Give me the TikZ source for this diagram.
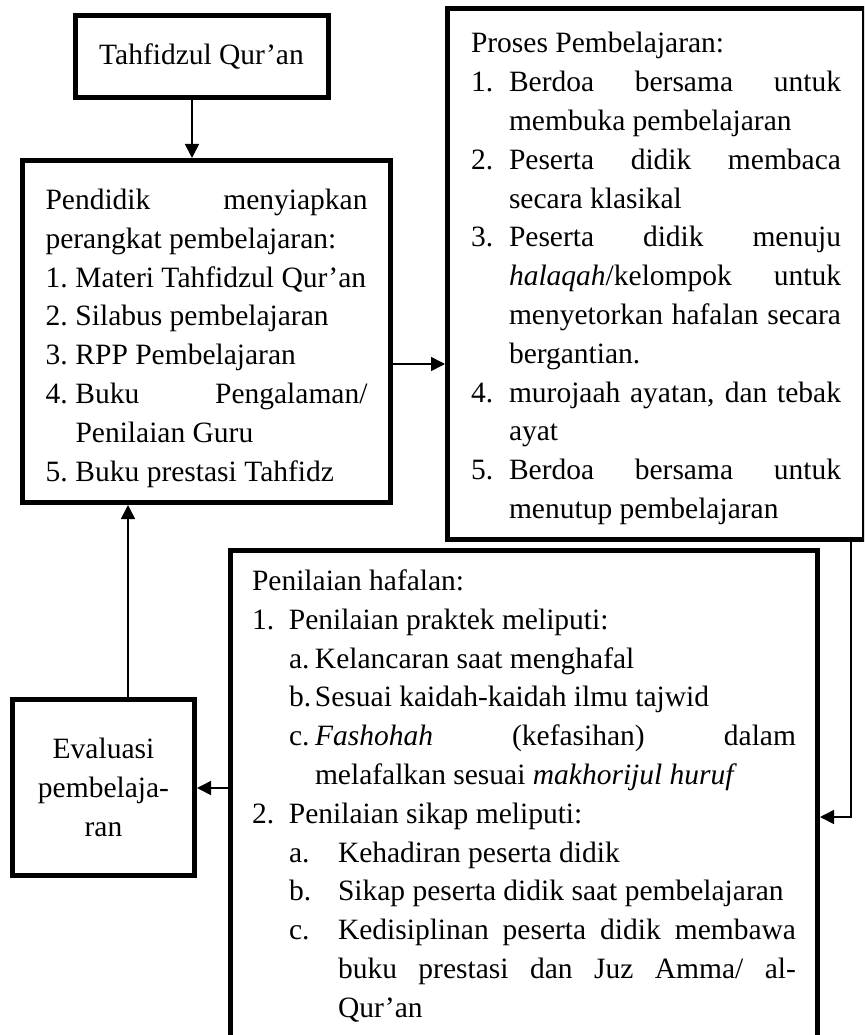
\documentclass[tikz,border=0pt]{standalone}
\usepackage{fontspec}
\setmainfont{Liberation Serif}
\usetikzlibrary{arrows.meta}
\newcommand\plainpara[1]{\par\noindent\strut#1\par}
\newcommand\numitem[3]{\par\hangindent=#1\hangafter=1\noindent\strut\makebox[#1][l]{#2}#3\par}
\newcommand\lvltwo[4]{\par\hangindent=\dimexpr#1+#2\relax\hangafter=1\noindent\strut\hspace*{#1}\makebox[#2][l]{#3}#4\par}
\newcommand\boxtext[4]{\parbox[c][#2][t]{#1}{\tolerance=10000\hbadness=10000\hyphenpenalty=10000\exhyphenpenalty=10000\parindent=0pt\vspace*{#3}#4}}
\begin{document}
\begin{tikzpicture}[x=1pt,y=-1pt,
  box/.style={draw, line width=5pt, rectangle, font=\fontsize{29.5}{38.8}\selectfont},
  listbox/.style={box, anchor=north west, inner ysep=0pt},
  conn/.style={line width=1.6pt, -{Triangle[length=14pt,width=14pt]}}]
\clip (0,0) rectangle (864,1035);
\useasboundingbox (0,0) rectangle (864,1035);

\node[box, minimum width=253pt, minimum height=82.5pt, inner sep=0pt] (tq) at (201.5,56.75) {Tahfidzul Qur’an};

\node[listbox, inner xsep=23pt] (pb) at (20,158) {\boxtext{322pt}{342pt}{21.8pt}{%
\plainpara{Pendidik menyiapkan\linebreak perangkat pembelajaran:}
\numitem{30pt}{1.}{Materi Tahfidzul Qur’an}
\numitem{30pt}{2.}{Silabus pembelajaran}
\numitem{30pt}{3.}{RPP Pembelajaran}
\numitem{30pt}{4.}{Buku Pengalaman/\linebreak Penilaian Guru}
\numitem{30pt}{5.}{Buku prestasi Tahfidz}}};

\node[listbox, inner xsep=23.5pt] (pc) at (445,6) {\boxtext{370pt}{531pt}{17.2pt}{%
\plainpara{Proses Pembelajaran:}
\numitem{38pt}{1.}{Berdoa bersama untuk\linebreak membuka pembelajaran}
\numitem{38pt}{2.}{Peserta didik membaca\linebreak secara klasikal}
\numitem{38pt}{3.}{Peserta didik menuju\linebreak \textit{halaqah}/kelompok untuk\linebreak menyetorkan hafalan secara\linebreak bergantian.}
\numitem{38pt}{4.}{murojaah ayatan, dan tebak\linebreak ayat}
\numitem{38pt}{5.}{Berdoa bersama untuk\linebreak menutup pembelajaran}}};

\node[listbox, inner xsep=21.5pt] (pd) at (228,548) {\boxtext{544pt}{530pt}{12.8pt}{%
\plainpara{Penilaian hafalan:}
\numitem{37pt}{1.}{Penilaian praktek meliputi:}
\lvltwo{37pt}{26pt}{a.}{Kelancaran saat menghafal}
\lvltwo{37pt}{26pt}{b.}{Sesuai kaidah-kaidah ilmu tajwid}
\lvltwo{37pt}{26pt}{c.}{\textit{Fashohah} (kefasihan) dalam\linebreak melafalkan sesuai \textit{makhorijul huruf}}
\numitem{37pt}{2.}{Penilaian sikap meliputi:}
\lvltwo{37pt}{49pt}{a.}{Kehadiran peserta didik}
\lvltwo{37pt}{49pt}{b.}{Sikap peserta didik saat pembelajaran}
\lvltwo{37pt}{49pt}{c.}{Kedisiplinan peserta didik membawa\linebreak buku prestasi dan Juz Amma/ al-\linebreak Qur’an}}};

\node[box, anchor=north west, minimum width=182pt, minimum height=176pt, inner sep=0pt, align=center] (ev) at (10,697) {Evaluasi\\pembelaja-\\ran};

\draw[conn] (192,0 |- tq.south) -- (192,0 |- pb.north);
\draw[conn] (pb.east |- 0,364) -- (pc.west |- 0,364);
\coordinate (bend) at (851,817);
\draw[conn] (bend |- pc.south) -- (bend) -- (pd.east |- bend);
\draw[conn] (pd.west |- 0,788) -- (ev.east |- 0,788);
\draw[conn] (128,0 |- ev.north) -- (128,0 |- pb.south);
\end{tikzpicture}
\end{document}
